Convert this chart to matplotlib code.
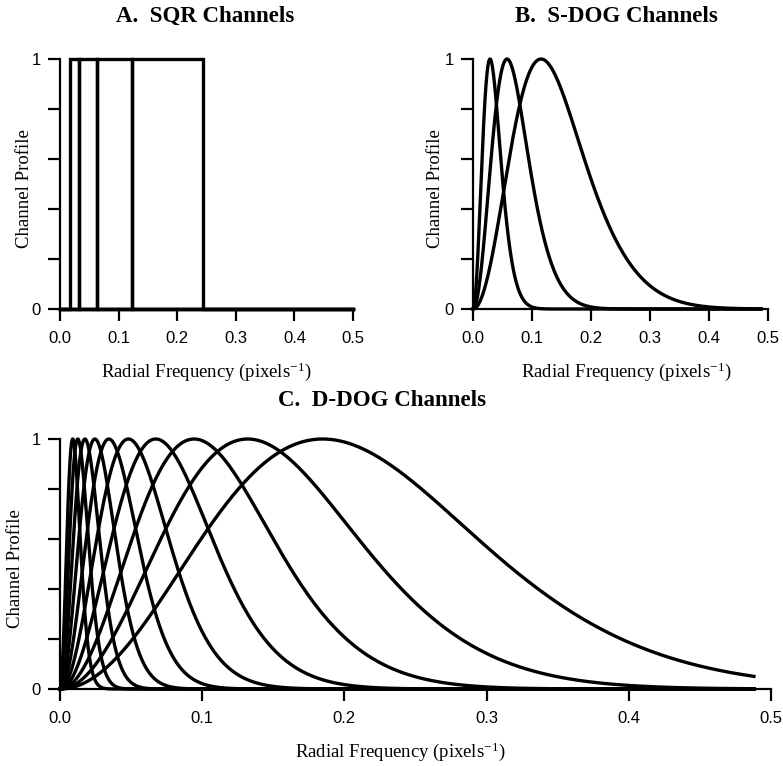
import numpy as np
import matplotlib
matplotlib.use('Agg')
import matplotlib.pyplot as plt

plt.rcParams['font.family'] = 'Liberation Serif'
plt.rcParams['mathtext.fontset'] = 'custom'
plt.rcParams['mathtext.rm'] = 'Liberation Serif'
plt.rcParams['mathtext.it'] = 'Liberation Serif:italic'
plt.rcParams['mathtext.bf'] = 'Liberation Serif:bold'

# square channel band edges (cycles/pixel)
sqr_edges = [0.0165, 0.032, 0.0625, 0.123, 0.244]

# sparse DOG channels: sigma per channel and the DOG width ratio Q
sdog_sigma = [0.015, 0.03, 0.06]
sdog_q = 2.0

# dense DOG channels
ddog_sigma = [0.005, 0.007, 0.0098, 0.01372, 0.01921, 0.02689, 0.03765, 0.05271, 0.07379, 0.1033]
ddog_q = 1.67

# frequency range the profiles were drawn over
freq_max = 0.488
sqr_freq_max = 0.5

xticks = [0.0, 0.1, 0.2, 0.3, 0.4, 0.5]
xtick_labels = ['0.0', '0.1', '0.2', '0.3', '0.4', '0.5']
yticks = [0.0, 0.2, 0.4, 0.6, 0.8, 1.0]
ytick_labels = ['0', '', '', '', '', '1']

LW = 2.4
XLABEL = r'Radial Frequency (pixels$^{\mathregular{-1}}$)'


def dog(rho, sigma, q):
    # difference of gaussians channel profile, scaled to a peak of 1
    c = np.exp(-0.5 * (rho / (q * sigma)) ** 2) - np.exp(-0.5 * (rho / sigma) ** 2)
    return c / c.max()


def style_axes(ax, xlab_x, ylab_x):
    ax.set_xlim(0, 0.5)
    ax.set_ylim(0, 1)
    for s in ['top', 'right']:
        ax.spines[s].set_visible(False)
    for s in ['left', 'bottom']:
        ax.spines[s].set_linewidth(1.6)
    ax.set_xticks(xticks)
    ax.set_xticklabels(xtick_labels)
    ax.set_yticks(yticks)
    ax.set_yticklabels(ytick_labels)
    ax.tick_params(axis='both', length=8.6, width=1.6, labelsize=12)
    ax.tick_params(axis='x', pad=7.5)
    ax.tick_params(axis='y', pad=5)
    for lab in ax.get_xticklabels() + ax.get_yticklabels():
        lab.set_fontfamily('Liberation Sans')
    ax.set_xlabel(XLABEL, fontsize=13.5)
    ax.set_ylabel('Channel Profile', fontsize=13.5)
    ax.xaxis.set_label_coords(xlab_x, -0.205)
    ax.yaxis.set_label_coords(ylab_x, 0.48)


fig = plt.figure(figsize=(7.83, 7.66), dpi=100)
W, H = 783.0, 766.0

# A. square channels
axA = fig.add_axes([60 / W, 1 - 309 / H, 293 / W, 250 / H])
for lo, hi in zip(sqr_edges[:-1], sqr_edges[1:]):
    axA.plot([0, lo, lo, hi, hi, sqr_freq_max], [0, 0, 1, 1, 0, 0],
             color='black', lw=LW, clip_on=False, solid_joinstyle='miter')
style_axes(axA, 0.50, -0.093)

# B. sparse DOG
axB = fig.add_axes([473 / W, 1 - 309 / H, 295 / W, 250 / H])
rho = np.linspace(0, freq_max, 2000)
for sig in sdog_sigma:
    axB.plot(rho, dog(rho, sig, sdog_q), color='black', lw=LW, clip_on=False)
style_axes(axB, 0.52, -0.098)

# C. dense DOG
axC = fig.add_axes([60 / W, 1 - 689 / H, 711 / W, 250 / H])
for sig in ddog_sigma:
    axC.plot(rho, dog(rho, sig, ddog_q), color='black', lw=LW, clip_on=False)
style_axes(axC, 0.478, -0.051)

fig.text(205 / W, 1 - 16 / H, 'A.  SQR Channels', ha='center', va='center',
         fontsize=16.5, fontweight='bold')
fig.text(616 / W, 1 - 16 / H, 'B.  S-DOG Channels', ha='center', va='center',
         fontsize=16.5, fontweight='bold')
fig.text(382 / W, 1 - 400 / H, 'C.  D-DOG Channels', ha='center', va='center',
         fontsize=16.5, fontweight='bold')

fig.savefig('out.png', dpi=100)
